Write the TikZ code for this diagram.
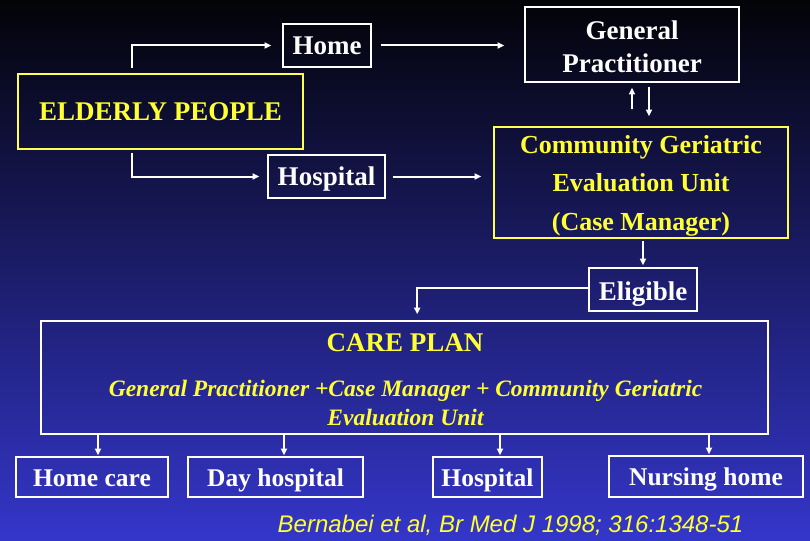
\documentclass[tikz,border=0pt]{standalone}
\usepackage{fontspec}
\setmainfont{Liberation Serif}
\newfontfamily\citefont{Liberation Sans}
\usetikzlibrary{arrows.meta}
\definecolor{bgtop}{HTML}{030308}
\definecolor{bgmid}{HTML}{1F2280}
\definecolor{bgbot}{HTML}{3436CA}
\definecolor{ylw}{HTML}{FFFF33}
\tikzset{
  box/.style={draw=white, line width=1.6pt, inner sep=0pt, align=center, text=white,
    font=\fontsize{27}{33}\selectfont\bfseries},
  onebox/.style={box, text height=18.5pt, text depth=0pt},
  ybox/.style={box, draw=ylw!85!white, text=ylw},
  lowbox/.style={box, minimum height=40pt, text height=18.5pt, text depth=0pt,
    font=\fontsize{25.5}{30}\selectfont\bfseries},
  arr/.style={draw=white, line width=2pt, -{Triangle[length=6.5pt,width=6pt]}},
}
\begin{document}
\begin{tikzpicture}[x=1pt,y=-1pt]
\useasboundingbox (0,0) rectangle (810,540);
\shade[top color=bgtop, middle color=bgmid, bottom color=bgbot] (0,0) rectangle (810,540);

% top-left group
\node[onebox, minimum width=88pt, minimum height=43pt] (home) at (327,45.5) {Home};
\node[ybox, text height=18.5pt, text depth=0pt, minimum width=285pt, minimum height=75pt] (elderly) at (160.5,111.5) {ELDERLY PEOPLE};
\node[onebox, minimum width=117pt, minimum height=43pt] (hosp1) at (326.5,176.5) {Hospital};

% right column
\node[box, minimum width=214pt, minimum height=75pt] (gp) at (632,44.5) {\rule{0pt}{24pt}General\\Practitioner};
\node[ybox, minimum width=294pt, minimum height=111pt,
      font=\fontsize{26}{38.5}\selectfont\bfseries] (cgeu) at (641,182.5)
      {\rule{0pt}{24pt}Community Geriatric\\Evaluation Unit\\(Case Manager)};
\node[onebox, text height=21pt, minimum width=108pt, minimum height=43pt] (elig) at (643,289.5) {Eligible};

% care plan
\node[draw=white!90!ylw, line width=1.6pt, minimum width=727pt, minimum height=113pt, inner sep=0pt] (cp) at (404.5,377.5) {};
\node[text=ylw, font=\fontsize{27}{33}\selectfont\bfseries] (cptitle) at (405,343) {CARE PLAN};
\node[text=ylw, align=center, font=\fontsize{23.5}{29}\selectfont\bfseries\itshape] (cpbody) at (405.5,402.5)
  {General Practitioner +Case Manager + Community Geriatric\\Evaluation Unit};

% bottom row
\node[lowbox, minimum width=152pt] (hc) at (92,477) {Home care};
\node[lowbox, minimum width=175pt] (dh) at (275.5,477) {Day hospital};
\node[lowbox, minimum width=109pt] (hosp2) at (487.5,477) {Hospital};
\node[lowbox, minimum width=194pt, minimum height=41pt] (nh) at (706,476.5) {Nursing home};

\node[text=ylw, font=\citefont\fontsize{24}{28}\selectfont\itshape] (cite) at (510.5,525)
  {Bernabei et al, Br Med J 1998; 316:1348-51};

% connectors
\draw[arr] ([xshift=115pt,yshift=5pt]elderly.north west) |- ([xshift=-11pt]home.west);
\draw[arr] ([xshift=115pt,yshift=-3pt]elderly.south west) |- ([xshift=-8pt]hosp1.west);
\draw[arr] ([xshift=9pt]home.east) -- ([xshift=-20pt]home.east -| gp.west);
\draw[arr] ([xshift=7pt]hosp1.east) -- ([xshift=-12pt]hosp1.east -| cgeu.west);
\draw[arr] ([xshift=-9pt,yshift=17pt]cgeu.north) -- ([yshift=-5pt]gp.south);
\draw[arr] ([xshift=17pt,yshift=-4pt]gp.south) -- ([xshift=8pt,yshift=10pt]cgeu.north);
\draw[arr] ([yshift=-2pt]cgeu.south -| elig.north) -- ([yshift=2pt]elig.north);
\draw[arr] ([yshift=2pt]elig.west) -| ([xshift=377pt,yshift=6pt]cp.north west);
\draw[arr] ([xshift=6pt]hc.north |- cp.south) -- ([xshift=6pt,yshift=1pt]hc.north);
\draw[arr] ([xshift=8.5pt]dh.north |- cp.south) -- ([xshift=8.5pt,yshift=1pt]dh.north);
\draw[arr] ([xshift=12.5pt]hosp2.north |- cp.south) -- ([xshift=12.5pt,yshift=1pt]hosp2.north);
\draw[arr] ([xshift=3pt]nh.north |- cp.south) -- ([xshift=3pt,yshift=1pt]nh.north);
\end{tikzpicture}
\end{document}
